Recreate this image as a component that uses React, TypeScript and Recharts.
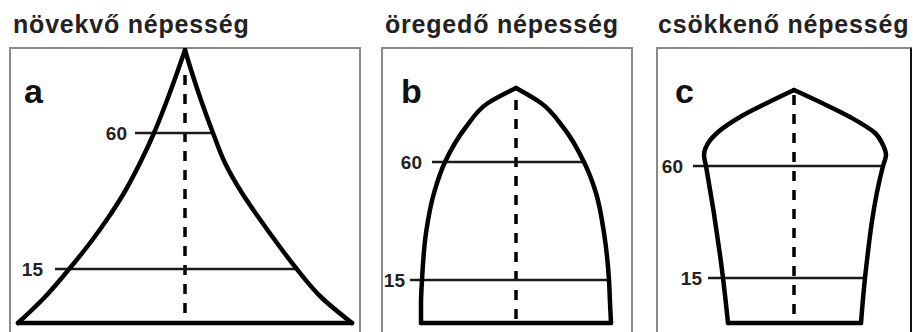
import React from 'react';
import { LineChart, Line, XAxis, YAxis, ReferenceLine } from 'recharts';

// titles and panel letters
const titles = ['növekvő népesség', 'öregedő népesség', 'csökkenő népesség'];
const panelLetters = ['a', 'b', 'c'];
const levelLabels = ['60', '15'];

// outline of each pyramid: height above base, half-width to the left / right of the axis
const aHeights = [0, 25, 55, 80, 105, 130, 160, 190, 220, 250, 273];
const aLeft = [167, 141, 115, 95, 77, 61, 45, 31, 19, 8, 0];
const aRight = [167, 137, 111, 92, 74, 57, 40, 28, 17, 7, 0];

const bHeights = [0, 20, 43, 90, 130, 161, 196, 220, 235];
const bLeft = [95, 95, 94, 90, 82, 71, 50, 28, 0];
const bRight = [95, 94, 93, 88, 80, 68, 47, 25, 0];

const cHeights = [0, 45, 157, 168, 178, 190, 206, 220, 233];
const cLeft = [66, 71, 88, 90, 87, 77, 54, 27, 0];
const cRight = [67, 71, 89, 92, 89, 81, 56, 28, 0];

// height of the 60 / 15 lines and where they start (left) and end (right)
const aLevels = [190, 54];
const aLevelFrom = [-50, -130];
const aLevelTo = [28, 110];

const bLevels = [161, 43];
const bLevelFrom = [-84, -106];
const bLevelTo = [67, 92];

const cLevels = [157, 45];
const cLevelFrom = [-101, -86];
const cLevelTo = [89, 71];

// top of the dashed axis
const axisTops = [248, 223, 228];

const FONT = "'Liberation Sans', Arial, Helvetica, sans-serif";

interface PanelProps {
  index: number;
  boxLeft: number;
  width: number;
  xMin: number;
  xMax: number;
  heights: number[];
  left: number[];
  right: number[];
  levels: number[];
  levelFrom: number[];
  levelTo: number[];
  labelOffsets: number[];
  rightBorder: string;
}

const Panel: React.FC<PanelProps> = ({
  index, boxLeft, width, xMin, xMax, heights, left, right,
  levels, levelFrom, levelTo, labelOffsets, rightBorder,
}) => {
  const leftData = heights.map((h, i) => ({ h, w: -left[i] }));
  const rightData = heights.map((h, i) => ({ h, w: right[i] }));

  return (
    <>
      <div
        style={{
          position: 'absolute', left: boxLeft - 1, top: 47, width: width + 2, height: 300,
          boxSizing: 'border-box', borderTop: '2px solid #8a8a8a', borderLeft: '2px solid #8a8a8a',
          borderRight: `2px solid ${rightBorder}`,
        }}
      />
      <div style={{ position: 'absolute', left: boxLeft, top: 48 }}>
        <LineChart layout="vertical" width={width} height={284} margin={{ top: 0, right: 0, bottom: 0, left: 0 }}>
          <XAxis type="number" domain={[xMin, xMax]} allowDataOverflow hide />
          <YAxis type="number" dataKey="h" domain={[-9, 275]} allowDataOverflow reversed hide />
          <ReferenceLine
            segment={[{ x: 0, y: axisTops[index] }, { x: 0, y: 0 }]}
            stroke="#000" strokeWidth={3.5} strokeDasharray="10 9"
          />
          {levels.map((lv, i) => (
            <ReferenceLine
              key={levelLabels[i]}
              segment={[{ x: levelFrom[i], y: lv }, { x: levelTo[i], y: lv }]}
              stroke="#1a1a1a" strokeWidth={2.5}
              label={{
                value: levelLabels[i], position: 'left', offset: labelOffsets[i],
                fill: '#222', fontSize: 19, fontWeight: 'bold', fontFamily: FONT,
              }}
            />
          ))}
          <ReferenceLine
            segment={[{ x: -left[0], y: 0 }, { x: right[0], y: 0 }]}
            stroke="#000" strokeWidth={4.5} strokeLinecap="round"
          />
          <Line data={leftData} dataKey="w" type="monotone" stroke="#000" strokeWidth={4.5}
            dot={false} strokeLinecap="round" isAnimationActive={false} />
          <Line data={rightData} dataKey="w" type="monotone" stroke="#000" strokeWidth={4.5}
            dot={false} strokeLinecap="round" isAnimationActive={false} />
        </LineChart>
      </div>
    </>
  );
};

const titleLefts = [13, 385, 658];
const letterLefts = [24, 401, 675];

export default function App() {
  return (
    <div style={{
      position: 'fixed', left: 0, top: 0, width: 913, height: 332, overflow: 'hidden',
      background: '#fff', fontFamily: FONT,
    }}>
      {titles.map((t, i) => (
        <div key={t} style={{
          position: 'absolute', left: titleLefts[i], top: 12, fontSize: 25, lineHeight: '25px',
          fontWeight: 'bold', letterSpacing: 0.8, color: '#222', whiteSpace: 'nowrap',
        }}>{t}</div>
      ))}
      <Panel index={0} boxLeft={10} width={350} xMin={-175} xMax={175}
        heights={aHeights} left={aLeft} right={aRight}
        levels={aLevels} levelFrom={aLevelFrom} levelTo={aLevelTo} labelOffsets={[8, 12]}
        rightBorder="#8a8a8a" />
      <Panel index={1} boxLeft={382} width={250} xMin={-134} xMax={116}
        heights={bHeights} left={bLeft} right={bRight}
        levels={bLevels} levelFrom={bLevelFrom} levelTo={bLevelTo} labelOffsets={[10, 5]}
        rightBorder="#8a8a8a" />
      <Panel index={2} boxLeft={657} width={254} xMin={-137} xMax={117}
        heights={cHeights} left={cLeft} right={cRight}
        levels={cLevels} levelFrom={cLevelFrom} levelTo={cLevelTo} labelOffsets={[10, 6]}
        rightBorder="#111" />
      {panelLetters.map((l, i) => (
        <div key={l} style={{
          position: 'absolute', left: letterLefts[i], top: 74, fontSize: 34, lineHeight: '34px',
          fontWeight: 'bold', color: '#111',
        }}>{l}</div>
      ))}
    </div>
  );
}
